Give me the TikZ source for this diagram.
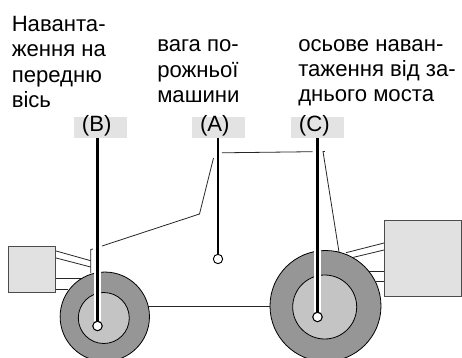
\documentclass[tikz,border=0pt]{standalone}
\usepackage{fontspec}
\setmainfont{Liberation Sans}
\tikzset{
  x=0.75pt,y=-0.75pt,
  lbl/.style={inner sep=0pt,anchor=base west,align=left,font=\fontsize{16.6}{18.9}\selectfont},
  tagbox/.style={fill=tagfill,text width=27.75pt,inner xsep=6pt,inner ysep=0pt,align=left,text height=11pt,text depth=4.75pt,font=\fontsize{16.6}{18}\selectfont},
  tire/.style={circle,draw=black,fill=tirefill,line width=0.6pt,inner sep=0pt},
  hub/.style={circle,draw=black,fill=hubfill,line width=0.6pt,inner sep=0pt},
  pin/.style={circle,draw=black,fill=white,line width=0.7pt,inner sep=0pt,minimum size=7pt},
  lead/.style={line width=2.1pt,black},
  halo/.style={line width=5.5pt,white},
  frame/.style={line width=0.6pt,black!85},
  block/.style={draw=black!70,fill=boxfill,line width=0.7pt,inner sep=0pt},
}
\definecolor{tagfill}{HTML}{E3E3E3}
\definecolor{tirefill}{HTML}{969696}
\definecolor{hubfill}{HTML}{C4C4C4}
\definecolor{boxfill}{HTML}{E1E1E1}
\begin{document}
\begin{tikzpicture}
\useasboundingbox (0,0) rectangle (462,358);
\begin{scope}
\clip (0,0) rectangle (462,358);
% blocks
\node[block,minimum width=35.25pt,minimum height=34.5pt] (fbox) at (32.2,269) {};
\node[block,minimum width=57.75pt,minimum height=57.5pt] (rbox) at (423,258.3) {};
% link anchors
\coordinate (fa) at (90.7,260.7);
\coordinate (fb) at (90.7,267);
\coordinate (fc) at (84,278.5);
\coordinate (fd) at (68,289);
\coordinate (ra) at (346,252.7);
\coordinate (rb) at (352.7,257.5);
\coordinate (rc) at (369,271);
\coordinate (rd) at (376,281.5);
\draw[frame] (fbox.east |- 0,251) -- (fa);
\draw[frame] (fbox.east |- 0,258) -- (fb);
\draw[frame] (fbox.east |- 0,278.5) -- (fc);
\draw[frame] (fbox.east |- 0,289) -- (fd);
\draw[frame] (rbox.west |- 0,243) -- (ra);
\draw[frame] (rbox.west |- 0,250) -- (rb);
\draw[frame] (rbox.west |- 0,271) -- (rc);
\draw[frame] (rbox.west |- 0,281.5) -- (rd);
% sill between the wheels
\coordinate (sillf) at (104.8,306.3);
\coordinate (sillr) at (325.5,306.3);
\draw[frame] (sillf) -- (sillr);
% wheels
\node[tire,minimum size=67pt] (ftire) at (104.8,316.7) {};
\node[tire,minimum size=83.25pt] (rtire) at (325.5,306) {};
\node[hub,minimum size=38.25pt] (fhub) at (103.8,318) {};
\node[hub,minimum size=48pt] (rhub) at (324.7,307) {};
% body
\coordinate (b1) at (102,246);
\coordinate (b2) at (199.5,214);
\coordinate (b3) at (213.5,158);
\coordinate (b4) at (222,152.8);
\coordinate (b5) at (312.7,151.7);
\coordinate (b6) at (325,151.5);
\coordinate (b7) at (323,151.5);
\coordinate (b8) at (339,252);
\coordinate (f1) at (93,249);
\coordinate (f2) at (90.7,249.5);
\coordinate (f3) at (90.7,273);
\draw[frame] (b1) -- (b2) -- (b3);
\draw[frame] (b4) -- (b5);
\draw[frame] (b6) -- (b7) -- (b8);
\draw[frame] (f1) -- (f2) -- (f3);
% tags
\node[tagbox] (tagB) at (100.5,127.5) {(B)};
\node[tagbox] (tagA) at (218.5,127.5) {(A)};
\node[tagbox] (tagC) at (317.5,127.5) {(C)};
% pins
\node[pin] (pinB) at (97.5,326) {};
\node[pin] (pinA) at (218,259) {};
\node[pin] (pinC) at (317.5,317) {};
% leads
\draw[halo] (pinB.north |- tagB.south) -- (pinB.north);
\draw[halo] (pinC.north |- tagC.south) -- (pinC.north);
\draw[lead] (pinB.north |- tagB.south) -- (pinB.north);
\draw[lead] (pinA.north |- tagA.south) -- (pinA.north);
\draw[lead] (pinC.north |- tagC.south) -- (pinC.north);
\node[pin] at (pinB) {};
\node[pin] at (pinC) {};
\end{scope}
% texts
\node[lbl] (t1) at (11.5,107.3) {Наванта-\\ження на\\передню\\вісь};
\node[lbl] (t2) at (157,102.3) {вага по-\\рожньої\\машини};
\node[lbl] (t3) at (298,101.7) {осьове наван-\\таження від за-\\днього моста};
\end{tikzpicture}
\end{document}
